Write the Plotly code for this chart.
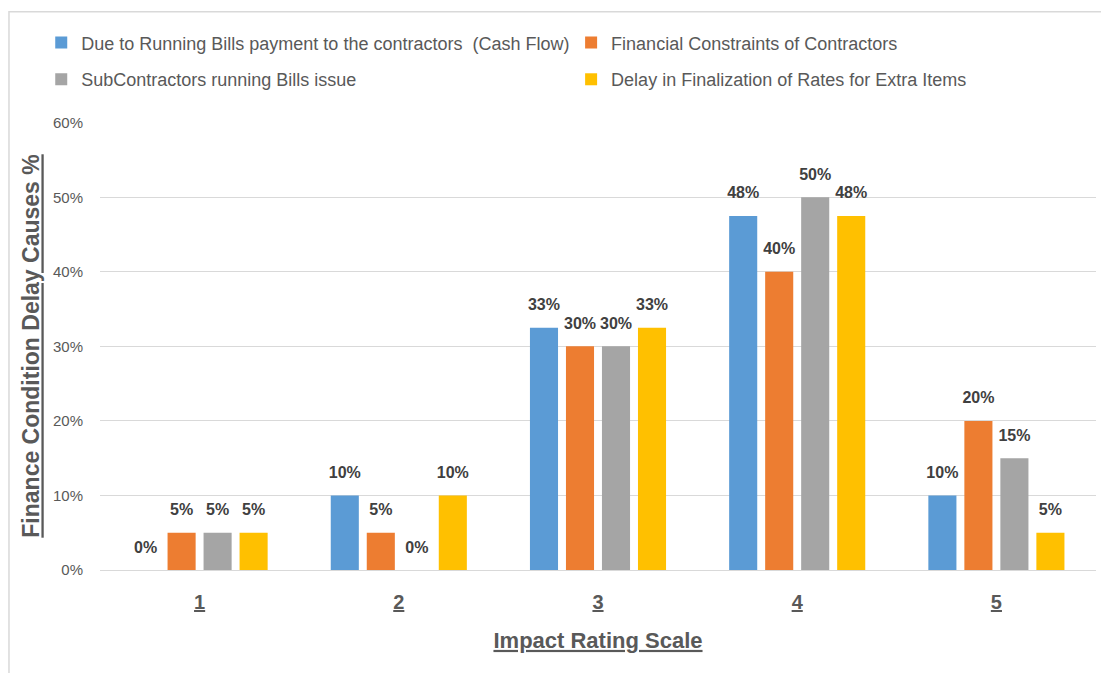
import plotly.graph_objects as go

# data
categories = ["1", "2", "3", "4", "5"]
cash_flow = [0.0, 0.10, 0.325, 0.475, 0.10]
fin_constraints = [0.05, 0.05, 0.30, 0.40, 0.20]
subcontractors = [0.05, 0.0, 0.30, 0.50, 0.15]
rate_delay = [0.05, 0.10, 0.325, 0.475, 0.05]

series_names = [
    "Due to Running Bills payment to the contractors  (Cash Flow)",
    "Financial Constraints of Contractors",
    "SubContractors running Bills issue",
    "Delay in Finalization of Rates for Extra Items",
]
colors = ["#5B9BD5", "#ED7D31", "#A5A5A5", "#FFC000"]
legend_ids = ["legend", "legend2", "legend3", "legend4"]

FONT = "Liberation Sans, Arial, sans-serif"
BARGAP = 0.277


def pct_label(v):
    return f"{int(v * 100 + 0.5)}%"


fig = go.Figure()
all_series = [cash_flow, fin_constraints, subcontractors, rate_delay]
for i, (name, vals, color, leg) in enumerate(zip(series_names, all_series, colors, legend_ids)):
    fig.add_trace(
        go.Bar(
            x=categories,
            y=vals,
            name=name,
            marker=dict(color=color, line=dict(width=0)),
            offsetgroup=str(i),
            legend=leg,
            hoverinfo="skip",
        )
    )

# value labels as grouped scatter text so they sit a bit higher above the bars
for i, vals in enumerate(all_series):
    fig.add_trace(
        go.Scatter(
            x=categories,
            y=vals,
            mode="markers+text",
            text=[pct_label(v) for v in vals],
            textposition="top center",
            textfont=dict(family=FONT, size=16, color="#404040", weight="bold"),
            marker=dict(size=20, opacity=0),
            offsetgroup=str(i),
            showlegend=False,
            cliponaxis=False,
        )
    )

# one legend per entry, laid out as a 2x2 grid above the plot
legend_common = dict(
    orientation="h",
    xanchor="left",
    yanchor="top",
    font=dict(family=FONT, size=18, color="#595959"),
    bgcolor="rgba(0,0,0,0)",
)
col_x = [-0.059, 0.473]
row_y = [1.218, 1.136]

# page body adds an 8px offset, so the figure is slightly smaller than the window
fig.update_layout(
    width=1101,
    height=665,
    margin=dict(l=92, r=13, t=114, b=103),
    paper_bgcolor="white",
    plot_bgcolor="white",
    barmode="group",
    bargap=BARGAP,
    bargroupgap=0.22,
    scattermode="group",
    scattergap=BARGAP,
    font=dict(family=FONT, color="#595959"),
    legend=dict(x=col_x[0], y=row_y[0], **legend_common),
    legend2=dict(x=col_x[1], y=row_y[0], **legend_common),
    legend3=dict(x=col_x[0], y=row_y[1], **legend_common),
    legend4=dict(x=col_x[1], y=row_y[1], **legend_common),
    xaxis=dict(
        type="category",
        tickvals=categories,
        ticktext=[f"<b><u>{c}</u></b>" for c in categories],
        tickfont=dict(family=FONT, size=20, color="#595959"),
        showline=True,
        linecolor="#d9d9d9",
        linewidth=1,
        ticks="",
        ticklabelstandoff=14,
        title=dict(
            text="<b><u>Impact Rating Scale</u></b>",
            font=dict(family=FONT, size=22, color="#595959"),
            standoff=20,
        ),
    ),
    yaxis=dict(
        range=[0, 0.601],
        tickvals=[0, 0.1, 0.2, 0.3, 0.4, 0.5, 0.6],
        tickformat=".0%",
        tickfont=dict(family=FONT, size=15, color="#595959"),
        gridcolor="#d9d9d9",
        gridwidth=1,
        zeroline=False,
        ticks="",
        ticklabelstandoff=16,
        title=dict(
            text="<b><u>Finance Condition Delay Causes %</u></b>",
            font=dict(family=FONT, size=23, color="#595959"),
            standoff=6,
        ),
    ),
    shapes=[
        dict(
            type="rect",
            xref="paper",
            yref="paper",
            x0=-0.0914,
            x1=1.05,
            y0=-0.3,
            y1=1.246,
            line=dict(color="#d9d9d9", width=1.5),
            fillcolor="rgba(0,0,0,0)",
            layer="below",
        )
    ],
)

fig.write_html("out.html")
